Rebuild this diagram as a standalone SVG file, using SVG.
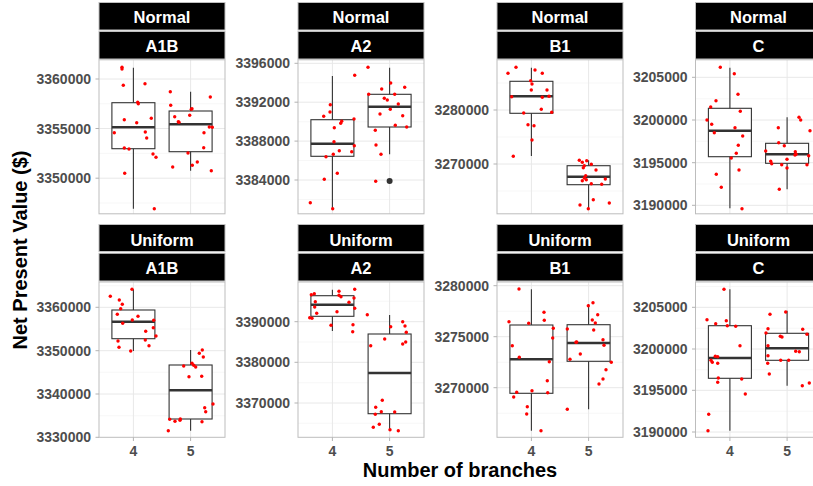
<svg xmlns="http://www.w3.org/2000/svg" width="813" height="486" viewBox="0 0 813 486">
  <style>
    .bg { fill: #ffffff; }
    .frame { fill: none; stroke: #bdbdbd; stroke-width: 1; }
    .strip { fill: #000000; stroke: #bfbfbf; stroke-width: 1; }
    .st { font-family: "Liberation Sans", Arial, sans-serif; font-weight: bold; font-size: 16.5px; fill: #ffffff; text-anchor: middle; }
    .gmaj { stroke: #e8e8e8; stroke-width: 1; }
    .gmin { stroke: #f3f3f3; stroke-width: 0.7; }
    .tick { stroke: #b3b3b3; stroke-width: 1; }
    .yl { font-family: "Liberation Sans", Arial, sans-serif; font-weight: bold; font-size: 14px; fill: #4d4d4d; text-anchor: end; }
    .xl { font-family: "Liberation Sans", Arial, sans-serif; font-weight: bold; font-size: 14px; fill: #4d4d4d; text-anchor: middle; }
    .whisk { stroke: #333333; stroke-width: 1.1; }
    .box { fill: #ffffff; stroke: #333333; stroke-width: 1.1; }
    .med { stroke: #333333; stroke-width: 2.6; }
    .p { fill: #ff0000; }
    .out { fill: #333333; }
    .title { font-family: "Liberation Sans", Arial, sans-serif; font-weight: bold; font-size: 20px; fill: #000000; text-anchor: middle; }
  </style>

  <!-- ===== Top row: Normal ===== -->
  <g id="normal-a1b">
    <rect class="strip" x="99" y="2.5" width="126" height="27.5"/>
    <text class="st" x="162" y="22.5">Normal</text>
    <rect class="strip" x="99" y="31.5" width="126" height="27.5"/>
    <text class="st" x="162" y="51.5">A1B</text>
    <rect class="bg" x="99" y="59.8" width="126" height="154"/>
    <g>
      <line class="gmin" x1="99" x2="225" y1="103.8" y2="103.8"/>
      <line class="gmin" x1="99" x2="225" y1="153.4" y2="153.4"/>
      <line class="gmin" x1="99" x2="225" y1="203" y2="203"/>
      <line class="gmaj" x1="99" x2="225" y1="79" y2="79"/>
      <line class="gmaj" x1="99" x2="225" y1="128.5" y2="128.5"/>
      <line class="gmaj" x1="99" x2="225" y1="178.2" y2="178.2"/>
      <line class="gmaj" x1="133.4" x2="133.4" y1="59.8" y2="213.8"/>
      <line class="gmaj" x1="190.6" x2="190.6" y1="59.8" y2="213.8"/>
    </g>
    <line class="whisk" x1="133.4" x2="133.4" y1="67.7" y2="208.7"/>
    <rect class="box" x="111.9" y="102.7" width="43" height="46"/>
    <line class="med" x1="111.9" x2="154.9" y1="127.3" y2="127.3"/>
    <line class="whisk" x1="190.6" x2="190.6" y1="91.7" y2="170.7"/>
    <rect class="box" x="169.1" y="111" width="43" height="40.7"/>
    <line class="med" x1="169.1" x2="212.1" y1="124.3" y2="124.3"/>
    <g class="p">
      <circle cx="122" cy="67.3" r="1.7"/><circle cx="122" cy="69" r="1.7"/><circle cx="123.3" cy="85.3" r="1.7"/>
      <circle cx="145" cy="83.7" r="1.7"/><circle cx="137.7" cy="102.3" r="1.7"/><circle cx="138.3" cy="103.7" r="1.7"/>
      <circle cx="124.3" cy="119.7" r="1.7"/><circle cx="151.3" cy="118.3" r="1.7"/><circle cx="136.7" cy="122.7" r="1.7"/>
      <circle cx="114.3" cy="132.7" r="1.7"/><circle cx="145.3" cy="132" r="1.7"/><circle cx="146.7" cy="138" r="1.7"/>
      <circle cx="124.3" cy="148" r="1.7"/><circle cx="129" cy="149" r="1.7"/><circle cx="153" cy="154" r="1.7"/>
      <circle cx="156" cy="157.3" r="1.7"/><circle cx="124.7" cy="173.3" r="1.7"/><circle cx="154.3" cy="208.7" r="1.7"/>
      <circle cx="170.3" cy="91.7" r="1.7"/><circle cx="170.7" cy="105.3" r="1.7"/><circle cx="174.7" cy="116.7" r="1.7"/>
      <circle cx="178.3" cy="121.7" r="1.7"/><circle cx="179" cy="122.3" r="1.7"/><circle cx="189.7" cy="115.3" r="1.7"/>
      <circle cx="191.3" cy="109.3" r="1.7"/><circle cx="192" cy="108.7" r="1.7"/><circle cx="210.3" cy="97" r="1.7"/>
      <circle cx="209.3" cy="127" r="1.7"/><circle cx="212.3" cy="127.3" r="1.7"/><circle cx="204" cy="132.7" r="1.7"/>
      <circle cx="203.7" cy="147.7" r="1.7"/><circle cx="188" cy="153" r="1.7"/><circle cx="197.3" cy="162" r="1.7"/>
      <circle cx="192.3" cy="165.3" r="1.7"/><circle cx="172.7" cy="167" r="1.7"/><circle cx="211.3" cy="170.7" r="1.7"/>
    </g>
    <rect class="frame" x="99" y="59.8" width="126" height="154"/>
    <line class="tick" x1="95.5" x2="99" y1="79" y2="79"/>
    <line class="tick" x1="95.5" x2="99" y1="128.5" y2="128.5"/>
    <line class="tick" x1="95.5" x2="99" y1="178.2" y2="178.2"/>
    <text class="yl" x="91" y="84">3360000</text>
    <text class="yl" x="91" y="133.5">3355000</text>
    <text class="yl" x="91" y="183.2">3350000</text>
  </g>

  <g id="normal-a2">
    <rect class="strip" x="298" y="2.5" width="126" height="27.5"/>
    <text class="st" x="361" y="22.5">Normal</text>
    <rect class="strip" x="298" y="31.5" width="126" height="27.5"/>
    <text class="st" x="361" y="51.5">A2</text>
    <rect class="bg" x="298" y="59.8" width="126" height="154"/>
    <g>
      <line class="gmin" x1="298" x2="424" y1="82.8" y2="82.8"/>
      <line class="gmin" x1="298" x2="424" y1="121.7" y2="121.7"/>
      <line class="gmin" x1="298" x2="424" y1="160.5" y2="160.5"/>
      <line class="gmin" x1="298" x2="424" y1="199.5" y2="199.5"/>
      <line class="gmaj" x1="298" x2="424" y1="63.3" y2="63.3"/>
      <line class="gmaj" x1="298" x2="424" y1="102.2" y2="102.2"/>
      <line class="gmaj" x1="298" x2="424" y1="141.1" y2="141.1"/>
      <line class="gmaj" x1="298" x2="424" y1="180" y2="180"/>
      <line class="gmaj" x1="332.4" x2="332.4" y1="59.8" y2="213.8"/>
      <line class="gmaj" x1="389.6" x2="389.6" y1="59.8" y2="213.8"/>
    </g>
    <line class="whisk" x1="332.4" x2="332.4" y1="76" y2="208.7"/>
    <rect class="box" x="310.9" y="119.7" width="43" height="36.6"/>
    <line class="med" x1="310.9" x2="353.9" y1="143.7" y2="143.7"/>
    <line class="whisk" x1="389.6" x2="389.6" y1="67.7" y2="154.3"/>
    <rect class="box" x="368.1" y="94.3" width="43" height="32.7"/>
    <line class="med" x1="368.1" x2="411.1" y1="106.7" y2="106.7"/>
    <circle class="out" cx="389.6" cy="181" r="3"/>
    <g class="p">
      <circle cx="330.3" cy="104.7" r="1.7"/><circle cx="323.7" cy="116.3" r="1.7"/><circle cx="330" cy="112" r="1.7"/>
      <circle cx="341.7" cy="121.3" r="1.7"/><circle cx="334.3" cy="127.7" r="1.7"/><circle cx="340.7" cy="123.3" r="1.7"/>
      <circle cx="354" cy="119" r="1.7"/><circle cx="334" cy="141.7" r="1.7"/><circle cx="354.3" cy="145.7" r="1.7"/>
      <circle cx="339.3" cy="150.7" r="1.7"/><circle cx="333.3" cy="154.3" r="1.7"/><circle cx="351.7" cy="151.7" r="1.7"/>
      <circle cx="326" cy="156.7" r="1.7"/><circle cx="354.7" cy="75.3" r="1.7"/><circle cx="337.3" cy="173.3" r="1.7"/>
      <circle cx="324.3" cy="179.3" r="1.7"/><circle cx="310.3" cy="202.7" r="1.7"/><circle cx="332.7" cy="208.7" r="1.7"/>
      <circle cx="368" cy="67.3" r="1.7"/><circle cx="368.7" cy="94.3" r="1.7"/><circle cx="381.7" cy="89" r="1.7"/>
      <circle cx="390.7" cy="83" r="1.7"/><circle cx="394.7" cy="94.3" r="1.7"/><circle cx="404.7" cy="87.3" r="1.7"/>
      <circle cx="384.3" cy="98.3" r="1.7"/><circle cx="387.3" cy="100" r="1.7"/><circle cx="398.3" cy="104" r="1.7"/>
      <circle cx="390.3" cy="109.3" r="1.7"/><circle cx="380" cy="114" r="1.7"/><circle cx="402.7" cy="115.7" r="1.7"/>
      <circle cx="395.3" cy="125.3" r="1.7"/><circle cx="406.7" cy="127" r="1.7"/><circle cx="375.3" cy="130.3" r="1.7"/>
      <circle cx="376" cy="145" r="1.7"/><circle cx="381" cy="154.3" r="1.7"/><circle cx="375.7" cy="181.3" r="1.7"/>
    </g>
    <rect class="frame" x="298" y="59.8" width="126" height="154"/>
    <line class="tick" x1="294.5" x2="298" y1="63.3" y2="63.3"/>
    <line class="tick" x1="294.5" x2="298" y1="102.2" y2="102.2"/>
    <line class="tick" x1="294.5" x2="298" y1="141.1" y2="141.1"/>
    <line class="tick" x1="294.5" x2="298" y1="180" y2="180"/>
    <text class="yl" x="290" y="68.3">3396000</text>
    <text class="yl" x="290" y="107.2">3392000</text>
    <text class="yl" x="290" y="146.1">3388000</text>
    <text class="yl" x="290" y="185">3384000</text>
  </g>

  <g id="normal-b1">
    <rect class="strip" x="497" y="2.5" width="126" height="27.5"/>
    <text class="st" x="560" y="22.5">Normal</text>
    <rect class="strip" x="497" y="31.5" width="126" height="27.5"/>
    <text class="st" x="560" y="51.5">B1</text>
    <rect class="bg" x="497" y="59.8" width="126" height="154"/>
    <g>
      <line class="gmin" x1="497" x2="623" y1="83" y2="83"/>
      <line class="gmin" x1="497" x2="623" y1="137" y2="137"/>
      <line class="gmin" x1="497" x2="623" y1="191" y2="191"/>
      <line class="gmaj" x1="497" x2="623" y1="110" y2="110"/>
      <line class="gmaj" x1="497" x2="623" y1="164" y2="164"/>
      <line class="gmaj" x1="531.4" x2="531.4" y1="59.8" y2="213.8"/>
      <line class="gmaj" x1="588.6" x2="588.6" y1="59.8" y2="213.8"/>
    </g>
    <line class="whisk" x1="531.4" x2="531.4" y1="67.7" y2="156"/>
    <rect class="box" x="509.9" y="81.3" width="43" height="32"/>
    <line class="med" x1="509.9" x2="552.9" y1="96.3" y2="96.3"/>
    <line class="whisk" x1="588.6" x2="588.6" y1="160.3" y2="208.7"/>
    <rect class="box" x="567.1" y="165.7" width="43" height="19"/>
    <line class="med" x1="567.1" x2="610.1" y1="176.7" y2="176.7"/>
    <g class="p">
      <circle cx="508" cy="73.3" r="1.7"/><circle cx="516" cy="67.3" r="1.7"/><circle cx="535" cy="70" r="1.7"/>
      <circle cx="542.3" cy="73.3" r="1.7"/><circle cx="530.7" cy="80.7" r="1.7"/><circle cx="532" cy="84" r="1.7"/>
      <circle cx="531.3" cy="90" r="1.7"/><circle cx="547" cy="90" r="1.7"/><circle cx="542.3" cy="97.3" r="1.7"/>
      <circle cx="549" cy="96.3" r="1.7"/><circle cx="511.7" cy="96.7" r="1.7"/><circle cx="541.3" cy="109.3" r="1.7"/>
      <circle cx="551.7" cy="112.3" r="1.7"/><circle cx="523.7" cy="113" r="1.7"/><circle cx="528" cy="124.7" r="1.7"/>
      <circle cx="534" cy="125.7" r="1.7"/><circle cx="532" cy="140" r="1.7"/><circle cx="513.3" cy="156.3" r="1.7"/>
      <circle cx="579.3" cy="160.3" r="1.7"/><circle cx="582.3" cy="162.3" r="1.7"/><circle cx="586.7" cy="160.7" r="1.7"/>
      <circle cx="591.3" cy="164.3" r="1.7"/><circle cx="584.3" cy="165.7" r="1.7"/><circle cx="583.3" cy="167.7" r="1.7"/>
      <circle cx="596" cy="170" r="1.7"/><circle cx="585.7" cy="175.7" r="1.7"/><circle cx="584.3" cy="178" r="1.7"/>
      <circle cx="582.3" cy="180.7" r="1.7"/><circle cx="586.3" cy="179.7" r="1.7"/><circle cx="591.3" cy="183.7" r="1.7"/>
      <circle cx="601.7" cy="184.3" r="1.7"/><circle cx="605.3" cy="179" r="1.7"/><circle cx="580" cy="205" r="1.7"/>
      <circle cx="588.3" cy="208.7" r="1.7"/><circle cx="593.3" cy="199.7" r="1.7"/><circle cx="609.3" cy="203" r="1.7"/>
    </g>
    <rect class="frame" x="497" y="59.8" width="126" height="154"/>
    <line class="tick" x1="493.5" x2="497" y1="110" y2="110"/>
    <line class="tick" x1="493.5" x2="497" y1="164" y2="164"/>
    <text class="yl" x="489" y="115">3280000</text>
    <text class="yl" x="489" y="169">3270000</text>
  </g>

  <g id="normal-c">
    <rect class="strip" x="695.5" y="2.5" width="126" height="27.5"/>
    <text class="st" x="758.5" y="22.5">Normal</text>
    <rect class="strip" x="695.5" y="31.5" width="126" height="27.5"/>
    <text class="st" x="758.5" y="51.5">C</text>
    <rect class="bg" x="695.5" y="59.8" width="126" height="154"/>
    <g>
      <line class="gmin" x1="695.5" x2="821.5" y1="98.7" y2="98.7"/>
      <line class="gmin" x1="695.5" x2="821.5" y1="141.3" y2="141.3"/>
      <line class="gmin" x1="695.5" x2="821.5" y1="184" y2="184"/>
      <line class="gmaj" x1="695.5" x2="821.5" y1="77.3" y2="77.3"/>
      <line class="gmaj" x1="695.5" x2="821.5" y1="120" y2="120"/>
      <line class="gmaj" x1="695.5" x2="821.5" y1="162.7" y2="162.7"/>
      <line class="gmaj" x1="695.5" x2="821.5" y1="205.3" y2="205.3"/>
      <line class="gmaj" x1="729.9" x2="729.9" y1="59.8" y2="213.8"/>
      <line class="gmaj" x1="787.1" x2="787.1" y1="59.8" y2="213.8"/>
    </g>
    <line class="whisk" x1="729.9" x2="729.9" y1="67.7" y2="208.3"/>
    <rect class="box" x="708.4" y="108.3" width="43" height="48.4"/>
    <line class="med" x1="708.4" x2="751.4" y1="130.7" y2="130.7"/>
    <line class="whisk" x1="787.1" x2="787.1" y1="117.3" y2="189.3"/>
    <rect class="box" x="765.6" y="143.3" width="43" height="20"/>
    <line class="med" x1="765.6" x2="808.6" y1="154.3" y2="154.3"/>
    <g class="p">
      <circle cx="720.3" cy="67.3" r="1.7"/><circle cx="734.3" cy="73.7" r="1.7"/><circle cx="716" cy="100.7" r="1.7"/>
      <circle cx="738" cy="94.3" r="1.7"/><circle cx="710.7" cy="107" r="1.7"/><circle cx="740.3" cy="111.3" r="1.7"/>
      <circle cx="707" cy="120" r="1.7"/><circle cx="711.7" cy="124.3" r="1.7"/><circle cx="735" cy="127.7" r="1.7"/>
      <circle cx="714.3" cy="132.7" r="1.7"/><circle cx="742.7" cy="136" r="1.7"/><circle cx="738.3" cy="145.3" r="1.7"/>
      <circle cx="736.3" cy="153.3" r="1.7"/><circle cx="731.3" cy="158" r="1.7"/><circle cx="739" cy="170" r="1.7"/>
      <circle cx="716.3" cy="174.3" r="1.7"/><circle cx="721.3" cy="187.3" r="1.7"/><circle cx="742" cy="208.7" r="1.7"/>
      <circle cx="799" cy="117.3" r="1.7"/><circle cx="800.7" cy="120" r="1.7"/><circle cx="778.3" cy="127.7" r="1.7"/>
      <circle cx="810" cy="130.7" r="1.7"/><circle cx="778.7" cy="142.7" r="1.7"/><circle cx="784.3" cy="145.7" r="1.7"/>
      <circle cx="765.7" cy="151" r="1.7"/><circle cx="795.3" cy="151.7" r="1.7"/><circle cx="796" cy="154.3" r="1.7"/>
      <circle cx="795" cy="155" r="1.7"/><circle cx="808.7" cy="155.7" r="1.7"/><circle cx="787" cy="159.3" r="1.7"/>
      <circle cx="770.7" cy="161.3" r="1.7"/><circle cx="771.7" cy="163.7" r="1.7"/><circle cx="781.7" cy="164.7" r="1.7"/>
      <circle cx="807" cy="164.7" r="1.7"/><circle cx="787" cy="168" r="1.7"/><circle cx="779.3" cy="189.3" r="1.7"/>
    </g>
    <rect class="frame" x="695.5" y="59.8" width="126" height="154"/>
    <line class="tick" x1="692" x2="695.5" y1="77.3" y2="77.3"/>
    <line class="tick" x1="692" x2="695.5" y1="120" y2="120"/>
    <line class="tick" x1="692" x2="695.5" y1="162.7" y2="162.7"/>
    <line class="tick" x1="692" x2="695.5" y1="205.3" y2="205.3"/>
    <text class="yl" x="687.5" y="82.3">3205000</text>
    <text class="yl" x="687.5" y="125">3200000</text>
    <text class="yl" x="687.5" y="167.7">3195000</text>
    <text class="yl" x="687.5" y="210.3">3190000</text>
  </g>

  <!-- ===== Bottom row: Uniform ===== -->
  <g id="uniform-a1b">
    <rect class="strip" x="99" y="224.5" width="126" height="27"/>
    <text class="st" x="162" y="245.7">Uniform</text>
    <rect class="strip" x="99" y="253.3" width="126" height="27.7"/>
    <text class="st" x="162" y="274">A1B</text>
    <rect class="bg" x="99" y="282" width="126" height="155.3"/>
    <g>
      <line class="gmin" x1="99" x2="225" y1="285.7" y2="285.7"/>
      <line class="gmin" x1="99" x2="225" y1="329" y2="329"/>
      <line class="gmin" x1="99" x2="225" y1="372.3" y2="372.3"/>
      <line class="gmin" x1="99" x2="225" y1="415.7" y2="415.7"/>
      <line class="gmaj" x1="99" x2="225" y1="307.3" y2="307.3"/>
      <line class="gmaj" x1="99" x2="225" y1="350.7" y2="350.7"/>
      <line class="gmaj" x1="99" x2="225" y1="394" y2="394"/>
      <line class="gmaj" x1="133.4" x2="133.4" y1="282" y2="437.3"/>
      <line class="gmaj" x1="190.6" x2="190.6" y1="282" y2="437.3"/>
    </g>
    <line class="whisk" x1="133.4" x2="133.4" y1="289.3" y2="351"/>
    <rect class="box" x="111.9" y="310" width="43" height="28.7"/>
    <line class="med" x1="111.9" x2="154.9" y1="321.7" y2="321.7"/>
    <line class="whisk" x1="190.6" x2="190.6" y1="350" y2="430.7"/>
    <rect class="box" x="169.1" y="365" width="43" height="54"/>
    <line class="med" x1="169.1" x2="212.1" y1="390.3" y2="390.3"/>
    <g class="p">
      <circle cx="110.3" cy="296.3" r="1.7"/><circle cx="119.3" cy="300" r="1.7"/><circle cx="132" cy="289.3" r="1.7"/>
      <circle cx="122.3" cy="304.3" r="1.7"/><circle cx="120.7" cy="308.7" r="1.7"/><circle cx="117.3" cy="314.3" r="1.7"/>
      <circle cx="138" cy="316.3" r="1.7"/><circle cx="132.3" cy="320" r="1.7"/><circle cx="122.7" cy="323.3" r="1.7"/>
      <circle cx="153.7" cy="320.3" r="1.7"/><circle cx="153.3" cy="327.7" r="1.7"/><circle cx="145.7" cy="331.3" r="1.7"/>
      <circle cx="156" cy="336" r="1.7"/><circle cx="118" cy="341" r="1.7"/><circle cx="145.3" cy="340" r="1.7"/>
      <circle cx="119" cy="347.3" r="1.7"/><circle cx="149" cy="345.7" r="1.7"/><circle cx="130.7" cy="351" r="1.7"/>
      <circle cx="202.3" cy="350" r="1.7"/><circle cx="203.3" cy="357" r="1.7"/><circle cx="199.3" cy="353.3" r="1.7"/>
      <circle cx="192" cy="363.3" r="1.7"/><circle cx="193.7" cy="365.3" r="1.7"/><circle cx="195.7" cy="367" r="1.7"/>
      <circle cx="183.7" cy="366" r="1.7"/><circle cx="189" cy="376.7" r="1.7"/><circle cx="201.7" cy="376.3" r="1.7"/>
      <circle cx="213" cy="404" r="1.7"/><circle cx="204.7" cy="407.7" r="1.7"/><circle cx="205.7" cy="411.7" r="1.7"/>
      <circle cx="169.7" cy="419.3" r="1.7"/><circle cx="175" cy="421.3" r="1.7"/><circle cx="180.3" cy="419" r="1.7"/>
      <circle cx="180" cy="420.3" r="1.7"/><circle cx="202" cy="421.7" r="1.7"/><circle cx="168.3" cy="430.7" r="1.7"/>
    </g>
    <rect class="frame" x="99" y="282" width="126" height="155.3"/>
    <line class="tick" x1="95.5" x2="99" y1="307.3" y2="307.3"/>
    <line class="tick" x1="95.5" x2="99" y1="350.7" y2="350.7"/>
    <line class="tick" x1="95.5" x2="99" y1="394" y2="394"/>
    <line class="tick" x1="95.5" x2="99" y1="437.3" y2="437.3"/>
    <text class="yl" x="91" y="312.3">3360000</text>
    <text class="yl" x="91" y="355.7">3350000</text>
    <text class="yl" x="91" y="399">3340000</text>
    <text class="yl" x="91" y="442.3">3330000</text>
    <line class="tick" x1="133.4" x2="133.4" y1="437.3" y2="441"/>
    <line class="tick" x1="190.6" x2="190.6" y1="437.3" y2="441"/>
    <text class="xl" x="133.4" y="456">4</text>
    <text class="xl" x="190.6" y="456">5</text>
  </g>

  <g id="uniform-a2">
    <rect class="strip" x="298" y="224.5" width="126" height="27"/>
    <text class="st" x="361" y="245.7">Uniform</text>
    <rect class="strip" x="298" y="253.3" width="126" height="27.7"/>
    <text class="st" x="361" y="274">A2</text>
    <rect class="bg" x="298" y="282" width="126" height="155.3"/>
    <g>
      <line class="gmin" x1="298" x2="424" y1="301.3" y2="301.3"/>
      <line class="gmin" x1="298" x2="424" y1="342" y2="342"/>
      <line class="gmin" x1="298" x2="424" y1="382.7" y2="382.7"/>
      <line class="gmin" x1="298" x2="424" y1="423.3" y2="423.3"/>
      <line class="gmaj" x1="298" x2="424" y1="321.7" y2="321.7"/>
      <line class="gmaj" x1="298" x2="424" y1="362.3" y2="362.3"/>
      <line class="gmaj" x1="298" x2="424" y1="403" y2="403"/>
      <line class="gmaj" x1="332.4" x2="332.4" y1="282" y2="437.3"/>
      <line class="gmaj" x1="389.6" x2="389.6" y1="282" y2="437.3"/>
    </g>
    <line class="whisk" x1="332.4" x2="332.4" y1="289.7" y2="331"/>
    <rect class="box" x="310.9" y="295.7" width="43" height="20.6"/>
    <line class="med" x1="310.9" x2="353.9" y1="304.7" y2="304.7"/>
    <line class="whisk" x1="389.6" x2="389.6" y1="315" y2="430.7"/>
    <rect class="box" x="368.1" y="334" width="43" height="79.7"/>
    <line class="med" x1="368.1" x2="411.1" y1="373" y2="373"/>
    <g class="p">
      <circle cx="309.7" cy="317.7" r="1.7"/><circle cx="312" cy="318.3" r="1.7"/><circle cx="311.3" cy="294.7" r="1.7"/>
      <circle cx="314.3" cy="293.7" r="1.7"/><circle cx="315.3" cy="301.7" r="1.7"/><circle cx="314.7" cy="307" r="1.7"/>
      <circle cx="316.7" cy="313.3" r="1.7"/><circle cx="331" cy="325.3" r="1.7"/><circle cx="337" cy="311.7" r="1.7"/>
      <circle cx="339" cy="291.3" r="1.7"/><circle cx="339" cy="295.3" r="1.7"/><circle cx="341" cy="296.7" r="1.7"/>
      <circle cx="349" cy="302.3" r="1.7"/><circle cx="354.7" cy="289.3" r="1.7"/><circle cx="354" cy="298" r="1.7"/>
      <circle cx="354.7" cy="308.3" r="1.7"/><circle cx="353" cy="324.7" r="1.7"/><circle cx="352.7" cy="331.7" r="1.7"/>
      <circle cx="367.3" cy="314.7" r="1.7"/><circle cx="390.7" cy="326.7" r="1.7"/><circle cx="402.7" cy="321.7" r="1.7"/>
      <circle cx="405" cy="326" r="1.7"/><circle cx="406.3" cy="332.3" r="1.7"/><circle cx="384.7" cy="339" r="1.7"/>
      <circle cx="405.7" cy="342" r="1.7"/><circle cx="402.7" cy="344" r="1.7"/><circle cx="370.7" cy="345.7" r="1.7"/>
      <circle cx="382.3" cy="400.3" r="1.7"/><circle cx="375.7" cy="407.3" r="1.7"/><circle cx="375.3" cy="414.3" r="1.7"/>
      <circle cx="381.3" cy="411.7" r="1.7"/><circle cx="379.3" cy="424.3" r="1.7"/><circle cx="373.3" cy="427.3" r="1.7"/>
      <circle cx="390" cy="429.7" r="1.7"/><circle cx="394.7" cy="412" r="1.7"/><circle cx="398.3" cy="430.7" r="1.7"/>
    </g>
    <rect class="frame" x="298" y="282" width="126" height="155.3"/>
    <line class="tick" x1="294.5" x2="298" y1="321.7" y2="321.7"/>
    <line class="tick" x1="294.5" x2="298" y1="362.3" y2="362.3"/>
    <line class="tick" x1="294.5" x2="298" y1="403" y2="403"/>
    <text class="yl" x="290" y="326.7">3390000</text>
    <text class="yl" x="290" y="367.3">3380000</text>
    <text class="yl" x="290" y="408">3370000</text>
    <line class="tick" x1="332.4" x2="332.4" y1="437.3" y2="441"/>
    <line class="tick" x1="389.6" x2="389.6" y1="437.3" y2="441"/>
    <text class="xl" x="332.4" y="456">4</text>
    <text class="xl" x="389.6" y="456">5</text>
  </g>

  <g id="uniform-b1">
    <rect class="strip" x="497" y="224.5" width="126" height="27"/>
    <text class="st" x="560" y="245.7">Uniform</text>
    <rect class="strip" x="497" y="253.3" width="126" height="27.7"/>
    <text class="st" x="560" y="274">B1</text>
    <rect class="bg" x="497" y="282" width="126" height="155.3"/>
    <g>
      <line class="gmin" x1="497" x2="623" y1="311.2" y2="311.2"/>
      <line class="gmin" x1="497" x2="623" y1="362.2" y2="362.2"/>
      <line class="gmin" x1="497" x2="623" y1="413.2" y2="413.2"/>
      <line class="gmaj" x1="497" x2="623" y1="285.7" y2="285.7"/>
      <line class="gmaj" x1="497" x2="623" y1="336.7" y2="336.7"/>
      <line class="gmaj" x1="497" x2="623" y1="387.7" y2="387.7"/>
      <line class="gmaj" x1="531.4" x2="531.4" y1="282" y2="437.3"/>
      <line class="gmaj" x1="588.6" x2="588.6" y1="282" y2="437.3"/>
    </g>
    <line class="whisk" x1="531.4" x2="531.4" y1="289.3" y2="430.7"/>
    <rect class="box" x="509.9" y="325" width="43" height="68.3"/>
    <line class="med" x1="509.9" x2="552.9" y1="359.3" y2="359.3"/>
    <line class="whisk" x1="588.6" x2="588.6" y1="304" y2="409.3"/>
    <rect class="box" x="567.1" y="324.7" width="43" height="36.6"/>
    <line class="med" x1="567.1" x2="610.1" y1="343" y2="343"/>
    <g class="p">
      <circle cx="519" cy="289" r="1.7"/><circle cx="509" cy="321.7" r="1.7"/><circle cx="528.7" cy="323.3" r="1.7"/>
      <circle cx="544" cy="312.3" r="1.7"/><circle cx="544.3" cy="320.3" r="1.7"/><circle cx="553.3" cy="328.3" r="1.7"/>
      <circle cx="552.7" cy="338" r="1.7"/><circle cx="512.3" cy="345.7" r="1.7"/><circle cx="519.3" cy="357.3" r="1.7"/>
      <circle cx="549.3" cy="361.7" r="1.7"/><circle cx="547.3" cy="380.7" r="1.7"/><circle cx="547.7" cy="392.7" r="1.7"/>
      <circle cx="532" cy="390.7" r="1.7"/><circle cx="516.7" cy="392.3" r="1.7"/><circle cx="513.7" cy="397" r="1.7"/>
      <circle cx="527.3" cy="406.7" r="1.7"/><circle cx="526.7" cy="414" r="1.7"/><circle cx="541" cy="430.7" r="1.7"/>
      <circle cx="593" cy="302.7" r="1.7"/><circle cx="588.3" cy="305.7" r="1.7"/><circle cx="597.7" cy="314.7" r="1.7"/>
      <circle cx="592.3" cy="320" r="1.7"/><circle cx="595.3" cy="323" r="1.7"/><circle cx="567.3" cy="329" r="1.7"/>
      <circle cx="593.7" cy="330" r="1.7"/><circle cx="603" cy="339.7" r="1.7"/><circle cx="576.7" cy="342" r="1.7"/>
      <circle cx="576" cy="342.3" r="1.7"/><circle cx="604" cy="345.3" r="1.7"/><circle cx="570" cy="359.3" r="1.7"/>
      <circle cx="580.3" cy="354" r="1.7"/><circle cx="611.3" cy="362.3" r="1.7"/><circle cx="606" cy="369.7" r="1.7"/>
      <circle cx="603" cy="379" r="1.7"/><circle cx="599" cy="384" r="1.7"/><circle cx="567.3" cy="409.3" r="1.7"/>
    </g>
    <rect class="frame" x="497" y="282" width="126" height="155.3"/>
    <line class="tick" x1="493.5" x2="497" y1="285.7" y2="285.7"/>
    <line class="tick" x1="493.5" x2="497" y1="336.7" y2="336.7"/>
    <line class="tick" x1="493.5" x2="497" y1="387.7" y2="387.7"/>
    <text class="yl" x="489" y="290.7">3280000</text>
    <text class="yl" x="489" y="341.7">3275000</text>
    <text class="yl" x="489" y="392.7">3270000</text>
    <line class="tick" x1="531.4" x2="531.4" y1="437.3" y2="441"/>
    <line class="tick" x1="588.6" x2="588.6" y1="437.3" y2="441"/>
    <text class="xl" x="531.4" y="456">4</text>
    <text class="xl" x="588.6" y="456">5</text>
  </g>

  <g id="uniform-c">
    <rect class="strip" x="695.5" y="224.5" width="126" height="27"/>
    <text class="st" x="758.5" y="245.7">Uniform</text>
    <rect class="strip" x="695.5" y="253.3" width="126" height="27.7"/>
    <text class="st" x="758.5" y="274">C</text>
    <rect class="bg" x="695.5" y="282" width="126" height="155.3"/>
    <g>
      <line class="gmin" x1="695.5" x2="821.5" y1="286.5" y2="286.5"/>
      <line class="gmin" x1="695.5" x2="821.5" y1="328.2" y2="328.2"/>
      <line class="gmin" x1="695.5" x2="821.5" y1="369.7" y2="369.7"/>
      <line class="gmin" x1="695.5" x2="821.5" y1="411.2" y2="411.2"/>
      <line class="gmaj" x1="695.5" x2="821.5" y1="307.3" y2="307.3"/>
      <line class="gmaj" x1="695.5" x2="821.5" y1="349" y2="349"/>
      <line class="gmaj" x1="695.5" x2="821.5" y1="390.3" y2="390.3"/>
      <line class="gmaj" x1="695.5" x2="821.5" y1="432" y2="432"/>
      <line class="gmaj" x1="729.9" x2="729.9" y1="282" y2="437.3"/>
      <line class="gmaj" x1="787.1" x2="787.1" y1="282" y2="437.3"/>
    </g>
    <line class="whisk" x1="729.9" x2="729.9" y1="289.3" y2="430.7"/>
    <rect class="box" x="708.4" y="325.7" width="43" height="52.6"/>
    <line class="med" x1="708.4" x2="751.4" y1="358" y2="358"/>
    <line class="whisk" x1="787.1" x2="787.1" y1="310.7" y2="385.7"/>
    <rect class="box" x="765.6" y="333.3" width="43" height="27"/>
    <line class="med" x1="765.6" x2="808.6" y1="348.3" y2="348.3"/>
    <g class="p">
      <circle cx="724" cy="289.3" r="1.7"/><circle cx="707" cy="319.7" r="1.7"/><circle cx="726.3" cy="320.7" r="1.7"/>
      <circle cx="715.7" cy="323.7" r="1.7"/><circle cx="727.3" cy="325.7" r="1.7"/><circle cx="735.7" cy="326.3" r="1.7"/>
      <circle cx="740" cy="345.7" r="1.7"/><circle cx="715.3" cy="356.3" r="1.7"/><circle cx="717.7" cy="356.7" r="1.7"/>
      <circle cx="711" cy="360.3" r="1.7"/><circle cx="712.3" cy="362.3" r="1.7"/><circle cx="717.7" cy="363.3" r="1.7"/>
      <circle cx="718.3" cy="378" r="1.7"/><circle cx="717.7" cy="382.3" r="1.7"/><circle cx="741.7" cy="379" r="1.7"/>
      <circle cx="745.3" cy="394" r="1.7"/><circle cx="708.7" cy="414.3" r="1.7"/><circle cx="708" cy="430.7" r="1.7"/>
      <circle cx="785.7" cy="312" r="1.7"/><circle cx="770" cy="314.3" r="1.7"/><circle cx="768" cy="328.7" r="1.7"/>
      <circle cx="766" cy="333" r="1.7"/><circle cx="802.7" cy="329.3" r="1.7"/><circle cx="807" cy="334.3" r="1.7"/>
      <circle cx="780.3" cy="336.3" r="1.7"/><circle cx="782" cy="337" r="1.7"/><circle cx="768" cy="345.7" r="1.7"/>
      <circle cx="768" cy="355.7" r="1.7"/><circle cx="767.7" cy="363.3" r="1.7"/><circle cx="769.3" cy="374" r="1.7"/>
      <circle cx="780.7" cy="360.3" r="1.7"/><circle cx="788.7" cy="360.3" r="1.7"/><circle cx="795.7" cy="351.3" r="1.7"/>
      <circle cx="799.3" cy="351.7" r="1.7"/><circle cx="802.3" cy="385.7" r="1.7"/><circle cx="809.3" cy="383" r="1.7"/>
    </g>
    <rect class="frame" x="695.5" y="282" width="126" height="155.3"/>
    <line class="tick" x1="692" x2="695.5" y1="307.3" y2="307.3"/>
    <line class="tick" x1="692" x2="695.5" y1="349" y2="349"/>
    <line class="tick" x1="692" x2="695.5" y1="390.3" y2="390.3"/>
    <line class="tick" x1="692" x2="695.5" y1="432" y2="432"/>
    <text class="yl" x="687.5" y="312.3">3205000</text>
    <text class="yl" x="687.5" y="354">3200000</text>
    <text class="yl" x="687.5" y="395.3">3195000</text>
    <text class="yl" x="687.5" y="437">3190000</text>
    <line class="tick" x1="729.9" x2="729.9" y1="437.3" y2="441"/>
    <line class="tick" x1="787.1" x2="787.1" y1="437.3" y2="441"/>
    <text class="xl" x="729.9" y="456">4</text>
    <text class="xl" x="787.1" y="456">5</text>
  </g>

  <!-- axis titles -->
  <g id="axis-titles">
    <text class="title" x="460" y="476.5">Number of branches</text>
    <text class="title" transform="translate(26.5 250) rotate(-90)">Net Present Value ($)</text>
  </g>
</svg>
